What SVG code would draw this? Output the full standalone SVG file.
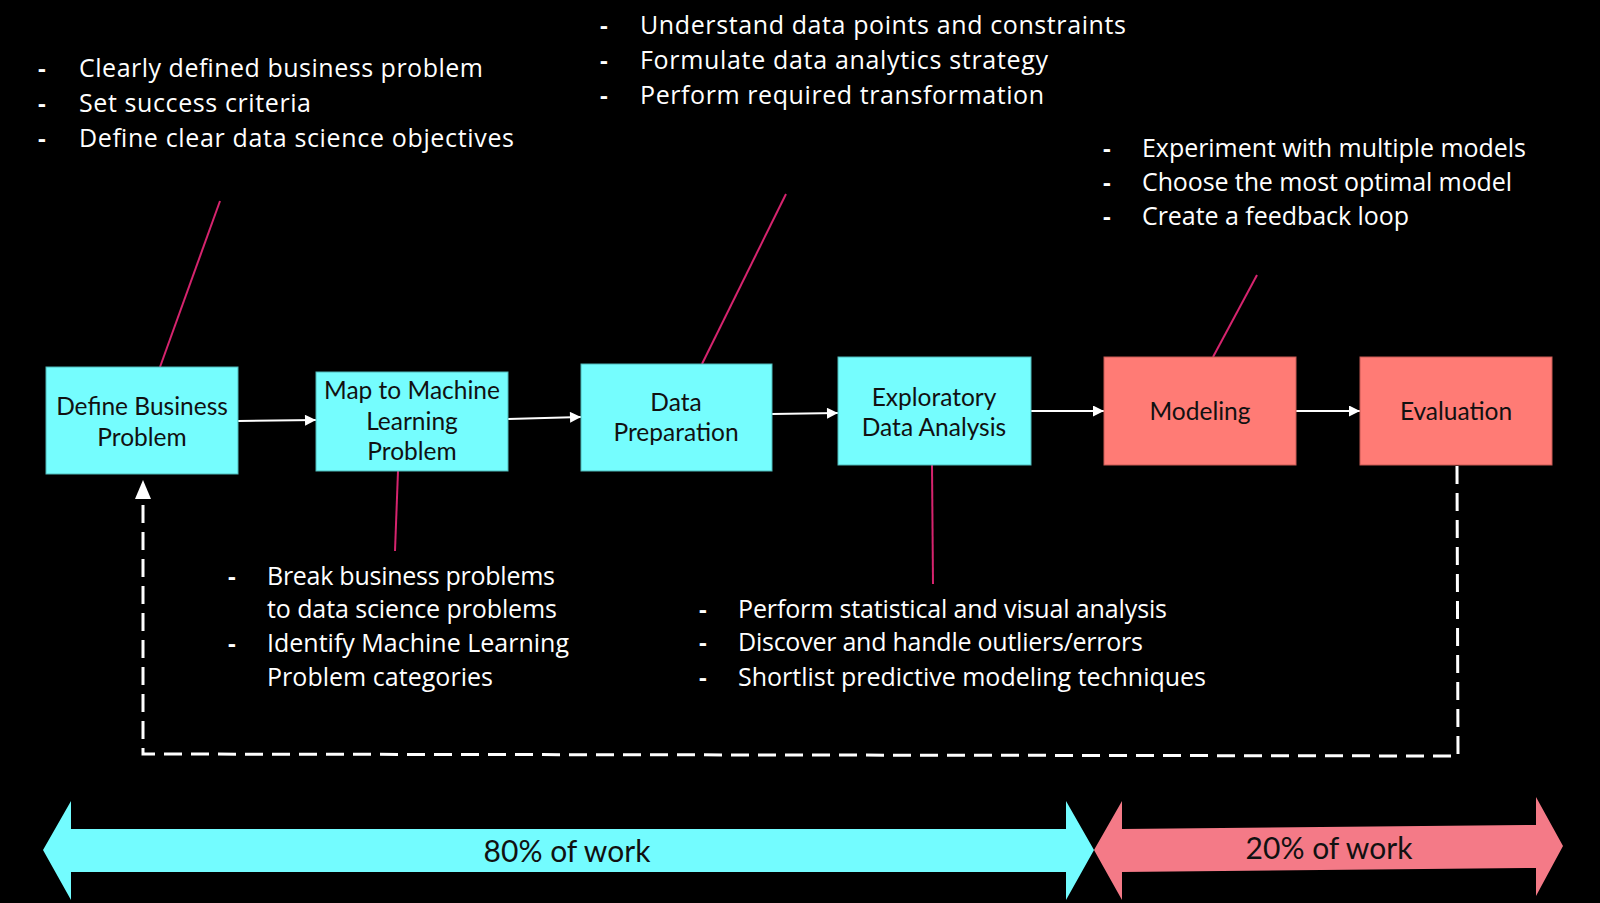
<svg xmlns="http://www.w3.org/2000/svg" width="1600" height="903" viewBox="0 0 1600 903">
<defs>
<style>
.bg{fill:#000}
.cy{fill:#75fdfe;stroke:#4fb8b8;stroke-width:1}
.sa{fill:#ff7b75;stroke:#c85a55;stroke-width:1}
.bt{font-family:Lato,"Open Sans",sans-serif;font-size:24.5px;fill:#111;text-anchor:middle}
.nt{font-family:"Open Sans",Lato,sans-serif;font-size:25px;fill:#fff}
.ds{font-family:"Open Sans",Lato,sans-serif;font-size:24px;font-weight:bold;fill:#fff}
.pk{stroke:#d6246e;stroke-width:2;fill:none}
.wa{stroke:#fff;stroke-width:2;fill:none;marker-end:url(#ah)}
.da{stroke:#fff;stroke-width:3;fill:none;stroke-dasharray:18,9}
.big{font-family:Lato,"Open Sans",sans-serif;font-size:30px;fill:#111;text-anchor:middle}
</style>
<marker id="ah" viewBox="0 0 10 10" refX="10" refY="5" markerWidth="12" markerHeight="11" markerUnits="userSpaceOnUse" orient="auto">
<path d="M0,0 L10,5 L0,10 z" fill="#fff"/>
</marker>
</defs>
<rect class="bg" x="0" y="0" width="1600" height="903"/>

<g id="connectors">
<line class="wa" x1="238" y1="421" x2="316" y2="420"/>
<line class="wa" x1="508" y1="419" x2="581" y2="417"/>
<line class="wa" x1="772" y1="414" x2="838" y2="413"/>
<line class="wa" x1="1031" y1="411" x2="1104" y2="411"/>
<line class="wa" x1="1296" y1="411" x2="1360" y2="411"/>
<polyline class="da" points="1457,466 1458,756 143,754 143,500"/>
<path d="M143,480 L135,499 L151,499 z" fill="#fff"/>
<line class="pk" x1="220" y1="201" x2="160" y2="367"/>
<line class="pk" x1="786" y1="194" x2="702" y2="364"/>
<line class="pk" x1="1257" y1="275" x2="1213" y2="357"/>
<line class="pk" x1="398" y1="471" x2="395" y2="551"/>
<line class="pk" x1="932" y1="465" x2="933" y2="584"/>
</g>

<g id="node-define">
<rect class="cy" x="46" y="367" width="192" height="107"/>
<text class="bt" x="142" y="415">Define Business</text>
<text class="bt" x="142" y="446">Problem</text>
</g>
<g id="node-map">
<rect class="cy" x="316" y="372" width="192" height="99"/>
<text class="bt" x="412" y="399">Map to Machine</text>
<text class="bt" x="412" y="430">Learning</text>
<text class="bt" x="412" y="460">Problem</text>
</g>
<g id="node-prep">
<rect class="cy" x="581" y="364" width="191" height="107"/>
<text class="bt" x="676" y="411">Data</text>
<text class="bt" x="676" y="441">Preparation</text>
</g>
<g id="node-eda">
<rect class="cy" x="838" y="357" width="193" height="108"/>
<text class="bt" x="934" y="406">Exploratory</text>
<text class="bt" x="934" y="436">Data Analysis</text>
</g>
<g id="node-modeling">
<rect class="sa" x="1104" y="357" width="192" height="108"/>
<text class="bt" x="1200" y="420">Modeling</text>
</g>
<g id="node-evaluation">
<rect class="sa" x="1360" y="357" width="192" height="108"/>
<text class="bt" x="1456" y="420">Evaluation</text>
</g>

<g id="note-define">
<text class="ds" x="38" y="77">-</text><text class="nt" x="79" y="77" textLength="404">Clearly defined business problem</text>
<text class="ds" x="38" y="112">-</text><text class="nt" x="79" y="112" textLength="232">Set success criteria</text>
<text class="ds" x="38" y="147">-</text><text class="nt" x="79" y="147" textLength="435">Define clear data science objectives</text>
</g>
<g id="note-prep">
<text class="ds" x="600" y="34">-</text><text class="nt" x="640" y="34" textLength="486">Understand data points and constraints</text>
<text class="ds" x="600" y="69">-</text><text class="nt" x="640" y="69" textLength="408">Formulate data analytics strategy</text>
<text class="ds" x="600" y="104">-</text><text class="nt" x="640" y="104" textLength="404">Perform required transformation</text>
</g>
<g id="note-modeling">
<text class="ds" x="1103" y="157">-</text><text class="nt" x="1142" y="157" textLength="384">Experiment with multiple models</text>
<text class="ds" x="1103" y="191">-</text><text class="nt" x="1142" y="191" textLength="370">Choose the most optimal model</text>
<text class="ds" x="1103" y="225">-</text><text class="nt" x="1142" y="225" textLength="267">Create a feedback loop</text>
</g>
<g id="note-map">
<text class="ds" x="228" y="585">-</text><text class="nt" x="267" y="585" textLength="288">Break business problems</text>
<text class="nt" x="267" y="618" textLength="290">to data science problems</text>
<text class="ds" x="228" y="652">-</text><text class="nt" x="267" y="652" textLength="302">Identify Machine Learning</text>
<text class="nt" x="267" y="686" textLength="226">Problem categories</text>
</g>
<g id="note-eda">
<text class="ds" x="699" y="618">-</text><text class="nt" x="738" y="618" textLength="429">Perform statistical and visual analysis</text>
<text class="ds" x="699" y="651">-</text><text class="nt" x="738" y="651" textLength="405">Discover and handle outliers/errors</text>
<text class="ds" x="699" y="686">-</text><text class="nt" x="738" y="686" textLength="468">Shortlist predictive modeling techniques</text>
</g>

<g id="work-80">
<path d="M43,850 L71,801 L71,829 L1066,829 L1066,801 L1094,850 L1066,900 L1066,872 L71,872 L71,900 z" fill="#73fcff"/>
<text class="big" x="567" y="862">80% of work</text>
</g>
<g id="work-20">
<path d="M1094,850 L1122,801 L1122,829 L1536,825 L1536,797 L1563,846 L1536,896 L1536,868 L1122,872 L1122,900 z" fill="#f47a87"/>
<text class="big" x="1329" y="859">20% of work</text>
</g>
</svg>
